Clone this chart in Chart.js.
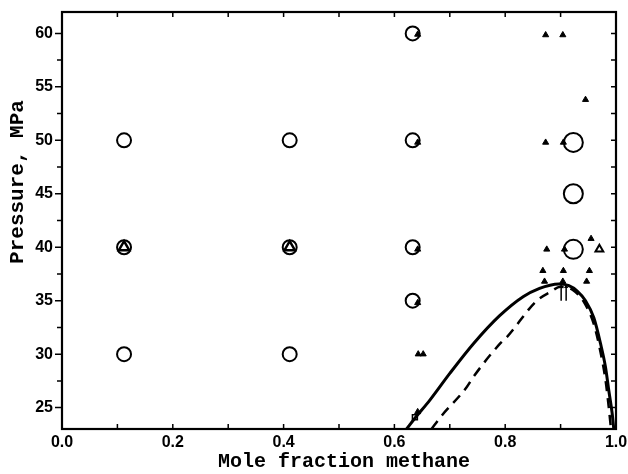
<!DOCTYPE html>
<html>
<head>
<meta charset="utf-8">
<script src="https://cdn.jsdelivr.net/npm/chart.js@4.4.1/dist/chart.umd.min.js"></script>
<style>
  html, body { margin: 0; padding: 0; background: #fff; }
  #wrap { width: 628px; height: 474px; }
</style>
</head>
<body>
<div id="wrap"><canvas id="chart" width="628" height="474"></canvas></div>
<script>
// === Data (x = mole fraction methane, y = pressure MPa) ===
const circleX = [0.112, 0.112, 0.112, 0.411, 0.411, 0.411, 0.633, 0.633, 0.633, 0.633];
const circleY = [30, 40, 50, 30, 40, 50, 35, 40, 50, 60];

const bigCircleX = [0.923, 0.923, 0.923];
const bigCircleY = [39.8, 45.0, 49.8];

const triX = [0.873, 0.904, 0.945, 0.873, 0.905, 0.875, 0.907, 0.955, 0.868, 0.905, 0.952,
              0.871, 0.904, 0.947, 0.643, 0.652, 0.642, 0.642, 0.642, 0.642, 0.642];
const triY = [59.85, 59.85, 53.8, 49.8, 49.8, 39.8, 39.8, 40.8, 37.8, 37.8, 37.8,
              36.8, 36.8, 36.8, 30.0, 30.0, 59.9, 49.8, 39.8, 34.8, 24.6];

const openTriX = [0.112, 0.411];
const openTriY = [40, 40];
const smallOpenTriX = [0.970];
const smallOpenTriY = [39.8];

const squareX = [0.637];
const squareY = [24.1];

// two little upward arrows at the critical point
const arrowX = [0.901, 0.910];
const arrowLow = 35.0;
const arrowHigh = 36.3;

// calculated phase boundary (solid) and second model (dashed)
const solidX = [0.622, 0.637, 0.664, 0.700, 0.743, 0.790, 0.833, 0.862, 0.881, 0.897, 0.915, 0.930, 0.945, 0.960, 0.972, 0.981, 0.987, 0.993, 0.996];
const solidY = [23.0, 24.0, 25.7, 28.2, 31.0, 33.6, 35.4, 36.15, 36.45, 36.55, 36.4, 35.9, 35.0, 33.4, 31.0, 28.8, 26.6, 24.5, 23.0];

const dashX = [0.667, 0.683, 0.731, 0.743, 0.791, 0.803, 0.857, 0.881, 0.900, 0.922, 0.943, 0.960, 0.972, 0.981, 0.987, 0.991];
const dashY = [23.0, 24.1, 26.95, 27.9, 31.0, 31.6, 35.0, 35.8, 36.3, 36.0, 34.8, 32.8, 30.2, 27.6, 25.0, 23.0];

// axis ticks
const xLabelTicks = [0.0, 0.2, 0.4, 0.6, 0.8, 1.0];
const xMinorTicks = [0.1, 0.2, 0.3, 0.4, 0.5, 0.6, 0.7, 0.8, 0.9];
const yLabelTicks = [25, 30, 35, 40, 45, 50, 55, 60];
const yMinorTicks = [25, 27.5, 30, 32.5, 35, 37.5, 40, 42.5, 45, 47.5, 50, 52.5, 55, 57.5, 60];

function zip(xs, ys) {
  return xs.map((x, i) => ({ x: x, y: ys[i] }));
}

const arrowSets = arrowX.map(x => ({
  data: [{ x: x, y: arrowLow }, { x: x, y: arrowHigh }],
  showLine: true,
  borderColor: "#000",
  borderWidth: 1.5,
  pointStyle: "triangle",
  pointRadius: [0, 2.5],
  backgroundColor: "#000",
  pointBorderWidth: 0
}));

// === Frame, ticks and axis titles ===
const framePlugin = {
  id: "frame",
  beforeDraw(chart) {
    const c = chart.ctx;
    c.save();
    c.fillStyle = "#fff";
    c.fillRect(0, 0, chart.width, chart.height);
    c.restore();
  },
  afterDraw(chart) {
    const c = chart.ctx;
    const a = chart.chartArea;
    const sx = chart.scales.x, sy = chart.scales.y;
    c.save();
    c.strokeStyle = "#000";
    c.lineWidth = 2.2;
    c.strokeRect(a.left, a.top, a.right - a.left, a.bottom - a.top);

    c.lineWidth = 1.5;
    c.beginPath();
    yMinorTicks.forEach(v => {
      const py = sy.getPixelForValue(v);
      const len = yLabelTicks.includes(v) ? 7 : 5;
      c.moveTo(a.left - len, py); c.lineTo(a.left, py);
      c.moveTo(a.right, py); c.lineTo(a.right - 5, py);
    });
    xMinorTicks.forEach(v => {
      const px = sx.getPixelForValue(v);
      c.moveTo(px, a.bottom); c.lineTo(px, a.bottom - 5);
      c.moveTo(px, a.top); c.lineTo(px, a.top + 5);
    });
    c.stroke();

    c.fillStyle = "#000";
    c.font = "bold 20px 'Liberation Mono'";
    c.textAlign = "center";
    c.textBaseline = "middle";
    c.fillText("Mole fraction methane", 344, 462);
    c.translate(18, 182);
    c.rotate(-Math.PI / 2);
    c.font = "bold 21px 'Liberation Mono'";
    c.fillText("Pressure, MPa", 0, 0);
    c.restore();
  }
};

const ctx = document.getElementById("chart").getContext("2d");
const chart = new Chart(ctx, {
  type: "scatter",
  data: {
    datasets: [
      {
        data: zip(solidX, solidY),
        showLine: true,
        borderColor: "#000",
        borderWidth: 3,
        pointRadius: 0,
        cubicInterpolationMode: "monotone"
      },
      {
        data: zip(dashX, dashY),
        showLine: true,
        borderColor: "#000",
        borderWidth: 2.5,
        borderDash: [10, 7],
        pointRadius: 0,
        cubicInterpolationMode: "monotone"
      },
      {
        data: zip(circleX, circleY),
        pointStyle: "circle",
        pointRadius: 7,
        pointBorderWidth: 2,
        borderColor: "#000",
        backgroundColor: "rgba(0,0,0,0)"
      },
      {
        data: zip(bigCircleX, bigCircleY),
        pointStyle: "circle",
        pointRadius: 9.5,
        pointBorderWidth: 2,
        borderColor: "#000",
        backgroundColor: "rgba(0,0,0,0)"
      },
      {
        data: zip(triX, triY),
        pointStyle: "triangle",
        pointRadius: 3.5,
        pointBorderWidth: 1,
        borderColor: "#000",
        backgroundColor: "#000"
      },
      {
        data: zip(openTriX, openTriY),
        pointStyle: "triangle",
        pointRadius: 6,
        pointBorderWidth: 2.5,
        borderColor: "#000",
        backgroundColor: "rgba(0,0,0,0)"
      },
      {
        data: zip(smallOpenTriX, smallOpenTriY),
        pointStyle: "triangle",
        pointRadius: 4.5,
        pointBorderWidth: 2,
        borderColor: "#000",
        backgroundColor: "rgba(0,0,0,0)"
      },
      {
        data: zip(squareX, squareY),
        pointStyle: "rect",
        pointRadius: 3.5,
        pointBorderWidth: 1.5,
        borderColor: "#000",
        backgroundColor: "rgba(0,0,0,0)"
      },
      ...arrowSets
    ]
  },
  options: {
    responsive: false,
    animation: false,
    devicePixelRatio: 1,
    layout: { padding: { top: 12, right: 12, left: 0, bottom: 0 } },
    plugins: { legend: { display: false }, tooltip: { enabled: false } },
    scales: {
      x: {
        type: "linear",
        min: 0,
        max: 1,
        afterBuildTicks: s => { s.ticks = xLabelTicks.map(v => ({ value: v })); },
        afterFit: s => { s.height = 45; s.paddingLeft = 0; s.paddingRight = 0; },
        grid: { display: false, drawTicks: false },
        border: { display: false },
        ticks: {
          color: "#000",
          padding: 4,
          maxRotation: 0,
          font: { family: "'Liberation Sans', Arial", size: 16, weight: "bold" },
          callback: v => Number(v).toFixed(1)
        }
      },
      y: {
        type: "linear",
        min: 23,
        max: 62,
        afterBuildTicks: s => { s.ticks = yLabelTicks.map(v => ({ value: v })); },
        afterFit: s => { s.width = 62; s.paddingTop = 0; s.paddingBottom = 0; },
        grid: { display: false, drawTicks: false },
        border: { display: false },
        ticks: {
          color: "#000",
          padding: 9,
          font: { family: "'Liberation Sans', Arial", size: 16, weight: "bold" },
          callback: v => String(v)
        }
      }
    }
  },
  plugins: [framePlugin]
});
</script>
</body>
</html>
